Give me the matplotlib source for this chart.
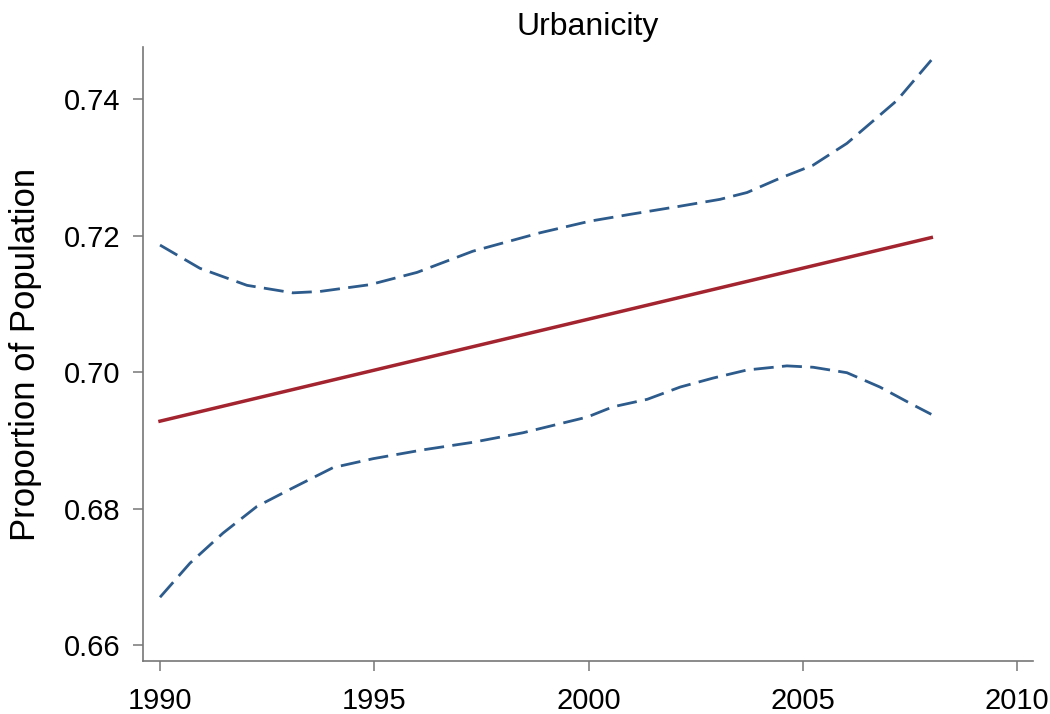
import numpy as np
import matplotlib
matplotlib.use("Agg")
import matplotlib.pyplot as plt

plt.rcParams['font.family'] = ['Liberation Sans', 'DejaVu Sans']

# fitted trend (linear)
anni_fit = [1990, 2008]
fit = [0.6928, 0.7197]

# upper confidence bound
anni_sup = [1990, 1990.93, 1992.03, 1993.1, 1993.73, 1994.9, 1996.0, 1997.3, 1998.87,
            2000.03, 2000.97, 2002.14, 2003.07, 2003.7, 2004.47, 2005.24, 2006.03,
            2006.57, 2007.2, 2008]
sup = [0.7186, 0.7152, 0.7127, 0.7116, 0.7118, 0.7128, 0.7146, 0.7177, 0.7204,
       0.7221, 0.7231, 0.7243, 0.7253, 0.7263, 0.7284, 0.7303, 0.7335,
       0.7364, 0.7398, 0.7457]

# lower confidence bound
anni_inf = [1990, 1990.7, 1991.47, 1992.26, 1993.03, 1994.04, 1994.97, 1996.14, 1997.3,
            1998.47, 1999.97, 2000.57, 2001.37, 2002.14, 2002.9, 2003.7, 2004.63,
            2005.24, 2006.03, 2006.8, 2007.57, 2008]
inf = [0.6670, 0.6720, 0.6764, 0.6803, 0.6828, 0.6860, 0.6873, 0.6886, 0.6897,
       0.6911, 0.6934, 0.6949, 0.6960, 0.6978, 0.6991, 0.7003, 0.7009,
       0.7007, 0.6999, 0.6978, 0.6952, 0.6938]

x_ticks = [1990, 1995, 2000, 2005, 2010]
y_ticks = [0.66, 0.68, 0.70, 0.72, 0.74]

fig = plt.figure(figsize=(10.5, 7.14), dpi=100)
ax = fig.add_axes([143/1050, 1 - 661/714, (1033 - 143)/1050, (661 - 47)/714])

blu = "#2d5b8c"
rosso = "#a3232f"

ax.plot(anni_sup, sup, color=blu, lw=2.0, dashes=(7.2, 3.0))
ax.plot(anni_inf, inf, color=blu, lw=2.0, dashes=(7.2, 3.0))
ax.plot(anni_fit, fit, color=rosso, lw=2.5)

ax.set_xlim(1989.603, 2010.373)
ax.set_ylim(0.65766, 0.74762)
ax.set_xticks(x_ticks)
ax.set_yticks(y_ticks)
ax.set_yticklabels(["%.2f" % v for v in y_ticks])

for s in ["top", "right"]:
    ax.spines[s].set_visible(False)
for s in ["left", "bottom"]:
    ax.spines[s].set_color("#777777")
    ax.spines[s].set_linewidth(1.2)

ax.tick_params(axis="both", colors="#777777", labelcolor="black", labelsize=21,
               length=7, width=1.1)
ax.tick_params(axis="y", pad=9)
ax.tick_params(axis="x", pad=12)

ax.set_title("Urbanicity", fontsize=23, pad=9)
ax.set_ylabel("Proportion of Population", fontsize=25, labelpad=16)

fig.savefig("out.png", dpi=100)
